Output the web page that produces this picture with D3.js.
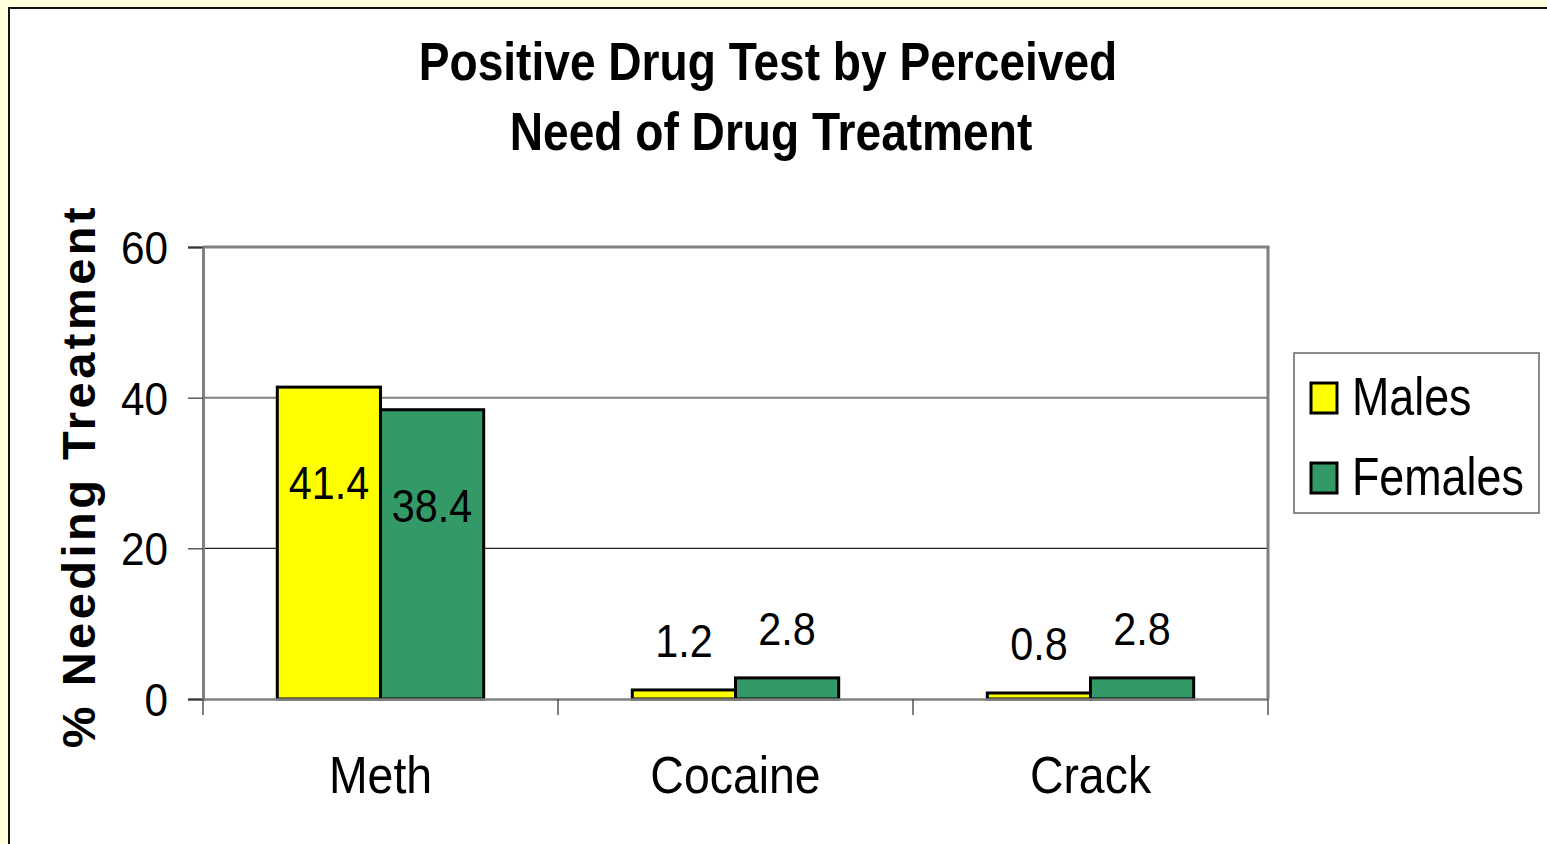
<!DOCTYPE html>
<html>
<head>
<meta charset="utf-8">
<script src="https://cdn.jsdelivr.net/npm/d3@7"></script>
<style>
  html, body { margin: 0; padding: 0; background: #FFFFDC; }
  svg { display: block; }
  text { font-family: "Liberation Sans", Arial, sans-serif; fill: #000; }
</style>
</head>
<body>
<svg id="chart" width="1547" height="844"></svg>
<script>
// Chart data
const categories = ["Meth", "Cocaine", "Crack"];
const seriesNames = ["Males", "Females"];
const males = [41.4, 1.2, 0.8];
const females = [38.4, 2.8, 2.8];
const yTicks = [0, 20, 40, 60];
const seriesColors = ["#FFFF00", "#339966"];
const titleLines = ["Positive Drug Test by Perceived", "Need of Drug Treatment"];
const yAxisTitle = "% Needing Treatment";

const W = 1547, H = 844;
const plot = { left: 203, right: 1268, top: 247, bottom: 699 };

const svg = d3.select("#chart");

// page background and white panel with dark top/left edge
svg.append("rect").attr("width", W).attr("height", H).attr("fill", "#FFFFDC");
svg.append("rect").attr("x", 8).attr("y", 7).attr("width", W).attr("height", H).attr("fill", "#fff");
svg.append("line").attr("x1", 8).attr("x2", W).attr("y1", 8).attr("y2", 8).attr("stroke", "#111").attr("stroke-width", 2);
svg.append("line").attr("x1", 9).attr("x2", 9).attr("y1", 7).attr("y2", H).attr("stroke", "#111").attr("stroke-width", 2);

// narrow-looking text helper
function label(parent, x, y, s, opt) {
  const g = parent.append("g").attr("transform", `translate(${x},${y}) scale(${opt.sx || 1},1)`);
  return g.append("text")
    .attr("text-anchor", opt.anchor || "middle")
    .attr("font-size", opt.size)
    .attr("font-weight", opt.weight || "normal")
    .text(s);
}

// scales
const x0 = d3.scaleBand().domain(categories).range([plot.left, plot.right]).padding(0);
const x1 = d3.scaleBand().domain(seriesNames).range([0, x0.bandwidth()]).paddingInner(0).paddingOuter(0.72);
const y = d3.scaleLinear().domain([0, 60]).range([plot.bottom, plot.top]);

// gridlines
const grid = svg.append("g");
yTicks.filter(t => t > 0 && t < 60).forEach((t, i) => {
  grid.append("line")
    .attr("x1", plot.left).attr("x2", plot.right)
    .attr("y1", y(t)).attr("y2", y(t))
    .attr("stroke", i === 0 ? "#222" : "#808080")
    .attr("stroke-width", i === 0 ? 1.2 : 2);
});

// plot frame (top & right)
svg.append("line").attr("x1", plot.left).attr("x2", plot.right + 1.5).attr("y1", plot.top).attr("y2", plot.top)
  .attr("stroke", "#808080").attr("stroke-width", 3);
svg.append("line").attr("x1", plot.right).attr("x2", plot.right).attr("y1", plot.top).attr("y2", plot.bottom)
  .attr("stroke", "#808080").attr("stroke-width", 3);

// bars
const rows = categories.map((c, i) => ({ cat: c, vals: [males[i], females[i]] }));
const groups = svg.append("g").selectAll("g").data(rows).join("g")
  .attr("transform", d => `translate(${x0(d.cat)},0)`);

groups.selectAll("rect")
  .data(d => d.vals.map((v, j) => ({ name: seriesNames[j], v, j })))
  .join("rect")
  .attr("x", d => x1(d.name))
  .attr("width", x1.bandwidth())
  .attr("y", d => y(d.v))
  .attr("height", d => y(0) - y(d.v))
  .attr("fill", d => seriesColors[d.j])
  .attr("stroke", "#000")
  .attr("stroke-width", 3);

// value labels
groups.each(function (d) {
  const g = d3.select(this);
  d.vals.forEach((v, j) => {
    const cx = x1(seriesNames[j]) + x1.bandwidth() / 2;
    const ly = v > 10 ? y(v) + 112 : y(v) - 33;
    label(g, cx, ly, v.toFixed(1), { size: 47, sx: 0.88 });
  });
});

// y axis
const yAxis = svg.append("g").attr("transform", `translate(${plot.left},0)`)
  .call(d3.axisLeft(y).tickValues(yTicks).tickSize(15).tickFormat(""));
yAxis.select(".domain").attr("stroke", "#808080").attr("stroke-width", 3);
yAxis.selectAll(".tick line").attr("stroke", "#333").attr("stroke-width", 1.2);
yTicks.forEach(t => label(svg, 168, y(t) + 17, String(t), { size: 47, sx: 0.9, anchor: "end" }));

// x axis
const xAxis = svg.append("g").attr("transform", `translate(0,${plot.bottom})`)
  .call(d3.axisBottom(x0).tickSize(0).tickFormat(""));
xAxis.select(".domain").attr("stroke", "#808080").attr("stroke-width", 2.5);
const xBounds = categories.map(c => x0(c)).concat([plot.right]);
xAxis.selectAll("line.sep").data(xBounds).join("line").attr("class", "sep")
  .attr("x1", d => d).attr("x2", d => d).attr("y1", 0).attr("y2", 16)
  .attr("stroke", "#555").attr("stroke-width", 1.5);
categories.forEach(c => label(svg, x0(c) + x0.bandwidth() / 2, 793, c, { size: 51, sx: 0.91 }));

// title
label(svg, 768, 80, titleLines[0], { size: 53, sx: 0.87, weight: "bold" });
label(svg, 771, 150, titleLines[1], { size: 53, sx: 0.87, weight: "bold" });

// y axis title
svg.append("text")
  .attr("transform", `translate(95,476) rotate(-90)`)
  .attr("text-anchor", "middle")
  .attr("font-size", 47)
  .attr("font-weight", "bold")
  .attr("letter-spacing", 3.5)
  .text(yAxisTitle);

// legend
const lg = svg.append("g");
lg.append("rect").attr("x", 1294).attr("y", 353).attr("width", 245).attr("height", 160)
  .attr("fill", "#fff").attr("stroke", "#666").attr("stroke-width", 1.5);
seriesNames.forEach((n, i) => {
  const yy = 383 + i * 80;
  lg.append("rect").attr("x", 1311).attr("y", yy).attr("width", 26).attr("height", 30)
    .attr("fill", seriesColors[i]).attr("stroke", "#000").attr("stroke-width", 3);
  label(lg, 1352, yy + 32, n, { size: 54, sx: 0.83, anchor: "start" });
});
</script>
</body>
</html>
